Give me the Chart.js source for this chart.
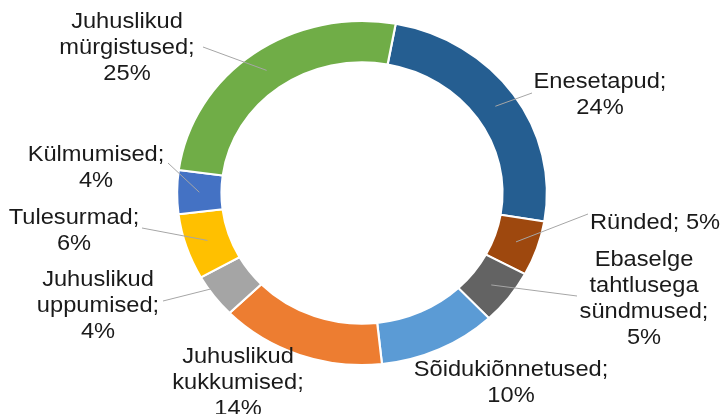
<!DOCTYPE html>
<html>
<head>
<meta charset="utf-8">
<script src="https://cdn.jsdelivr.net/npm/chart.js@4.4.1/dist/chart.umd.min.js"></script>
<style>
  html, body { margin: 0; padding: 0; background: #fff; }
  #wrap { width: 722px; height: 414px; }
</style>
</head>
<body>
<div id="wrap"><canvas id="myChart"></canvas></div>
<script>
// data
var categories = [
    ['Enesetapud'],
    ['Ründed'],
    ['Ebaselge', 'tahtlusega', 'sündmused'],
    ['Sõidukiõnnetused'],
    ['Juhuslikud', 'kukkumised'],
    ['Juhuslikud', 'uppumised'],
    ['Tulesurmad'],
    ['Külmumised'],
    ['Juhuslikud', 'mürgistused']
];
var values = [24, 5, 5, 10, 14, 4, 6, 4, 25];
var colors = ['#255e91', '#9e480e', '#636363', '#5b9bd5', '#ed7d31', '#a5a5a5', '#ffc000', '#4472c4', '#70ad47'];

// label layout: text centre x, first line y, leader end (or null), percent on same line
var labelX = [600, 655, 644, 511, 238, 98, 74, 96, 127];
var labelY = [82, 223, 260, 370, 357, 280, 218, 155, 22];
var leaderEnd = [[532, 93], [588, 214], [577, 296], null, null, [163, 301], [142, 228], [168, 163], [203, 47]];
var inlinePct = [false, true, false, false, false, false, false, false, false];

var stretchX = 1.075;
var lineH = 26;

function centre(chart) {
    var a = chart.getDatasetMeta(0).data[0];
    return { x: a.x, y: a.y };
}

var stretchPlugin = {
    id: 'stretch',
    beforeDatasetsDraw: function(chart) {
        var c = centre(chart), ctx = chart.ctx;
        ctx.save();
        ctx.translate(c.x, c.y);
        ctx.scale(stretchX, 1);
        ctx.translate(-c.x, -c.y);
    },
    afterDatasetsDraw: function(chart) {
        chart.ctx.restore();
    }
};

var labelPlugin = {
    id: 'outLabels',
    afterDraw: function(chart) {
        var ctx = chart.ctx;
        var arcs = chart.getDatasetMeta(0).data;
        ctx.save();
        ctx.strokeStyle = '#a6a6a6';
        ctx.lineWidth = 1;
        arcs.forEach(function(arc, i) {
            var end = leaderEnd[i];
            if (!end) return;
            var mid = (arc.startAngle + arc.endAngle) / 2;
            var r = (arc.innerRadius + arc.outerRadius) / 2;
            var sx = arc.x + Math.cos(mid) * r * stretchX;
            var sy = arc.y + Math.sin(mid) * r;
            ctx.beginPath();
            ctx.moveTo(sx, sy);
            ctx.lineTo(end[0], end[1]);
            ctx.stroke();
        });
        ctx.fillStyle = '#1a1a1a';
        ctx.font = '22px "Liberation Sans", Arial, sans-serif';
        ctx.textAlign = 'center';
        ctx.textBaseline = 'middle';
        categories.forEach(function(name, i) {
            var lines = name.slice();
            var pct = values[i] + '%';
            lines[lines.length - 1] += ';';
            if (inlinePct[i]) lines[lines.length - 1] += ' ' + pct;
            else lines.push(pct);
            lines.forEach(function(t, k) {
                ctx.save();
                ctx.translate(labelX[i], labelY[i] + k * lineH);
                ctx.scale(stretchX, 1);
                ctx.fillText(t, 0, 0);
                ctx.restore();
            });
        });
        ctx.restore();
    }
};

var ctx = document.getElementById('myChart').getContext('2d');
var myChart = new Chart(ctx, {
    type: 'doughnut',
    data: {
        labels: categories.map(function(c) { return c.join(' '); }),
        datasets: [{
            data: values,
            backgroundColor: colors,
            borderColor: '#ffffff',
            borderWidth: 2
        }]
    },
    options: {
        responsive: true,
        maintainAspectRatio: false,
        animation: false,
        rotation: 10.5,
        cutout: '76%',
        radius: 172,
        layout: { padding: { top: 21, bottom: 49, left: 100, right: 98 } },
        plugins: {
            legend: { display: false },
            tooltip: { enabled: false }
        }
    },
    plugins: [stretchPlugin, labelPlugin]
});
</script>
</body>
</html>
